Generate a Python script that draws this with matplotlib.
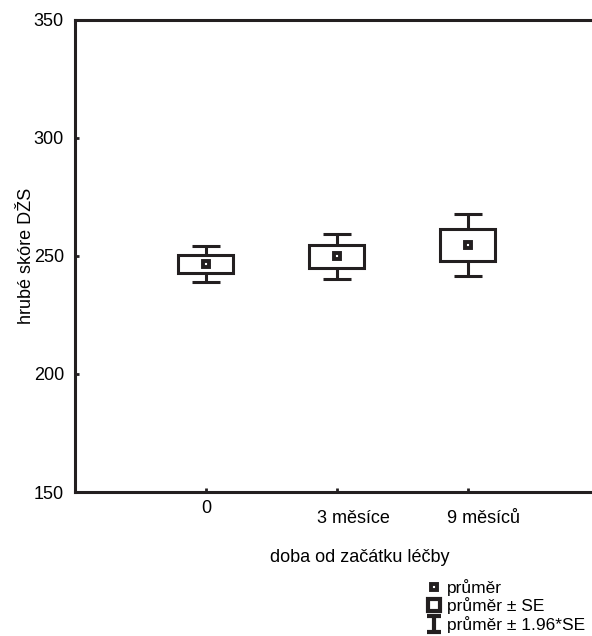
import numpy as np
import matplotlib
matplotlib.use('Agg')
import matplotlib.pyplot as plt
from matplotlib.lines import Line2D
from matplotlib.path import Path
from matplotlib.transforms import ScaledTranslation

# ---- DATA ----
groups = ['0', '3 měsíce', '9 měsíců']
means = [246.6, 249.8, 254.7]
se = [3.8, 4.9, 6.75]
yticks = [150, 200, 250, 300, 350]

ink = '#231f20'
plt.rcParams['font.family'] = ['Liberation Sans', 'DejaVu Sans']
plt.rcParams['font.size'] = 13

x = np.arange(len(groups))
means = np.array(means)
se = np.array(se)
ci = 1.96 * se

fig = plt.figure(figsize=(5.92, 6.36), dpi=100)
ax = fig.add_axes([0.1267, 0.2264, 0.885, 0.7422])

# whiskers (mean ± 1.96*SE)
ax.vlines(x, means + se, means + ci, color=ink, lw=2.2)
ax.vlines(x, means - ci, means - se, color=ink, lw=2.2)
ax.hlines(means + ci, x - 0.11, x + 0.11, color=ink, lw=2.2)
ax.hlines(means - ci, x - 0.11, x + 0.11, color=ink, lw=2.2)
# boxes (mean ± SE)
ax.bar(x, 2 * se, bottom=means - se, width=0.42, fill=False,
       edgecolor=ink, linewidth=2.2)
# mean
ax.plot(x, means, 's', ms=5, mfc='white', mec=ink, mew=2.8, ls='none')

ax.set_xlim(-1, 3)
ax.set_ylim(150, 350)
ax.set_yticks(yticks)
ax.set_xticks(x)
ax.set_xticklabels(groups)

for s in ['left', 'bottom', 'top', 'right']:
    ax.spines[s].set_linewidth(2.2)
    ax.spines[s].set_color(ink)
ax.tick_params(direction='in', length=3, width=2, color=ink)
ax.tick_params(axis='y', pad=8)

# staggered x labels, the later ones sit a bit lower and to the right
ticks = ax.xaxis.get_major_ticks()
ticks[0].set_pad(6)
shift = ScaledTranslation(16 / 100, 0, fig.dpi_scale_trans)
for t in ticks[1:]:
    t.set_pad(13)
    t.label1.set_transform(t.label1.get_transform() + shift)

ax.set_ylabel('hrubé skóre DŽS')
ax.yaxis.set_label_coords(-0.076, 0.5)
ax.set_xlabel('doba od začátku léčby')
ax.xaxis.set_label_coords(0.544, -0.12)

# ---- LEGEND ----
ibeam = Path([(-0.8, 1), (0.8, 1), (0, 1), (0, -1), (-0.8, -1), (0.8, -1)],
             [Path.MOVETO, Path.LINETO, Path.MOVETO, Path.LINETO,
              Path.MOVETO, Path.LINETO])
handles = [
    Line2D([], [], marker='s', ms=5, mfc='white', mec=ink, mew=2.8, ls='none'),
    Line2D([], [], marker='s', ms=9, mfc='white', mec=ink, mew=3, ls='none'),
    Line2D([], [], marker=ibeam, ms=12, mec=ink, mew=3, ls='none'),
]
labels = ['průměr', 'průměr ± SE', 'průměr ± 1.96*SE']
fig.legend(handles, labels, loc='upper left', bbox_to_anchor=(0.722, 0.09),
           frameon=False, handlelength=0.8, handletextpad=0.3,
           labelspacing=0.1, borderpad=0, borderaxespad=0, fontsize=12.5)

fig.savefig('out.png', dpi=100)
